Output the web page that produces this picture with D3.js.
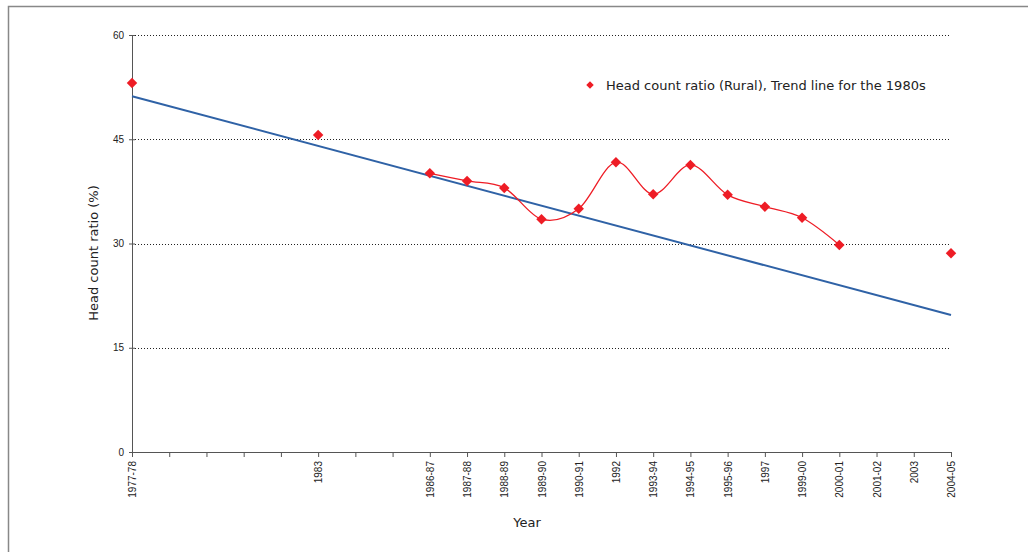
<!DOCTYPE html>
<html>
<head>
<meta charset="utf-8">
<script src="https://cdn.jsdelivr.net/npm/d3@7"></script>
<style>
    body { margin: 0; background: #fff; }
    svg { font-family: "DejaVu Sans", sans-serif; }
    .grid line { stroke: #222; stroke-dasharray: 1,2; }
    .axis path, .axis line { stroke: #555; }
    .axis text { font-size: 10px; fill: #222; }
</style>
</head>
<body>
<svg id="chart" width="1028" height="552"></svg>
<script>
// x slots (blank labels are empty years on the axis)
var years = ['1977-78', '', '', '', '', '1983', '', '', '1986-87', '1987-88', '1988-89',
    '1989-90', '1990-91', '1992', '1993-94', '1994-95', '1995-96', '1997', '1999-00',
    '2000-01', '2001-02', '2003', '2004-05'];
var yTicks = [0, 15, 30, 45, 60];

// head count ratio (rural), single points
var hcrYears = ['1977-78', '1983', '1986-87', '1987-88', '1988-89', '1989-90', '1990-91',
    '1992', '1993-94', '1994-95', '1995-96', '1997', '1999-00', '2000-01', '2004-05'];
var hcrValues = [53.1, 45.6, 40.1, 39.0, 38.0, 33.5, 35.0, 41.7, 37.1, 41.3, 37.0, 35.3, 33.7, 29.8, 28.6];

// the smoothed red line covers the annual survey rounds
var lineYears = ['1986-87', '1987-88', '1988-89', '1989-90', '1990-91', '1992', '1993-94',
    '1994-95', '1995-96', '1997', '1999-00', '2000-01'];

// trend line for the 1980s, end points
var trendYears = ['1977-78', '2004-05'];
var trendValues = [51.2, 19.7];

var svg = d3.select('#chart');
var margin = {left: 132, right: 77, top: 35, bottom: 100};
var w = 1028 - margin.left - margin.right;
var h = 552 - margin.top - margin.bottom;

// frame around the chart
svg.append('path')
    .attr('d', 'M8.5,560V6.5H1030')
    .attr('fill', 'none')
    .attr('stroke', '#888')
    .attr('stroke-width', 1.5);

var g = svg.append('g').attr('transform', 'translate(' + margin.left + ',' + margin.top + ')');

var keys = years.map(function (d, i) { return 'k' + i; });
var x = d3.scalePoint().domain(keys).range([0, w]);
var xOf = function (yr) { return x(keys[years.indexOf(yr)]); };
var y = d3.scaleLinear().domain([0, 60]).range([h, 0]);

// gridlines
g.append('g').attr('class', 'grid')
    .selectAll('line')
    .data(yTicks.slice(1))
    .enter().append('line')
    .attr('x1', 0).attr('x2', w)
    .attr('y1', function (d) { return Math.round(y(d)) + 0.5; })
    .attr('y2', function (d) { return Math.round(y(d)) + 0.5; });

// y axis
var yAxis = g.append('g').attr('class', 'axis')
    .call(d3.axisLeft(y).tickValues(yTicks).tickSize(3).tickPadding(5));
yAxis.selectAll('.tick line').attr('x2', 3).attr('x1', -3);
yAxis.select('.domain').attr('d', 'M0.5,' + h + 'V0');

// x axis
var xAxis = g.append('g').attr('class', 'axis')
    .attr('transform', 'translate(0,' + h + ')')
    .call(d3.axisBottom(x).tickSize(5).tickFormat(function (d, i) { return years[i]; }));
xAxis.select('.domain').attr('d', 'M0,0.5H' + w);
xAxis.selectAll('.tick text')
    .attr('transform', 'rotate(-90)')
    .attr('text-anchor', 'end')
    .attr('x', -9)
    .attr('y', 0)
    .attr('dy', '0.35em');

// axis titles
svg.append('text')
    .attr('transform', 'translate(98,253) rotate(-90)')
    .attr('text-anchor', 'middle')
    .attr('font-size', 13)
    .attr('fill', '#222')
    .text('Head count ratio (%)');
svg.append('text')
    .attr('x', 527).attr('y', 527)
    .attr('text-anchor', 'middle')
    .attr('font-size', 13)
    .attr('fill', '#222')
    .text('Year');

// trend line
var trendLine = d3.line()
    .x(function (d) { return xOf(d[0]); })
    .y(function (d) { return y(d[1]); });
g.append('path')
    .datum(d3.zip(trendYears, trendValues))
    .attr('d', trendLine)
    .attr('fill', 'none')
    .attr('stroke', '#2f62a6')
    .attr('stroke-width', 2);

// smoothed red line
var lineData = d3.zip(hcrYears, hcrValues).filter(function (d) { return lineYears.indexOf(d[0]) >= 0; });
g.append('path')
    .datum(lineData)
    .attr('d', trendLine.curve(d3.curveCardinal.tension(0)))
    .attr('fill', 'none')
    .attr('stroke', '#ee1c25')
    .attr('stroke-width', 1.3);

// diamonds
var diamond = d3.symbol().type(d3.symbolDiamond2).size(70);
g.selectAll('.pt')
    .data(d3.zip(hcrYears, hcrValues))
    .enter().append('path')
    .attr('class', 'pt')
    .attr('d', diamond)
    .attr('fill', '#ee1c25')
    .attr('transform', function (d) { return 'translate(' + xOf(d[0]) + ',' + y(d[1]) + ')'; });

// legend
var legend = svg.append('g').attr('transform', 'translate(590,85)');
legend.append('path')
    .attr('d', d3.symbol().type(d3.symbolDiamond2).size(36))
    .attr('fill', '#ee1c25');
legend.append('text')
    .attr('x', 16).attr('y', 0).attr('dy', '0.35em')
    .attr('font-size', 13)
    .attr('fill', '#222')
    .text('Head count ratio (Rural), Trend line for the 1980s');
</script>
</body>
</html>
